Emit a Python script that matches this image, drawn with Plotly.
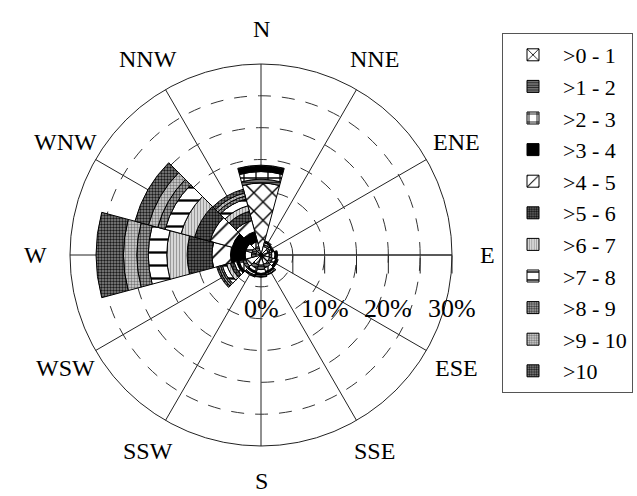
import math
import plotly.graph_objects as go

# Wind directions (compass, clockwise from north) and their bearings
directions = ["N", "NNE", "ENE", "E", "ESE", "SSE", "S", "SSW", "WSW", "W", "WNW", "NNW"]
bearings = [0, 30, 60, 90, 120, 150, 180, 210, 240, 270, 300, 330]

# Speed classes (m/s)
speed_classes = [">0 - 1", ">1 - 2", ">2 - 3", ">3 - 4", ">4 - 5", ">5 - 6",
                 ">6 - 7", ">7 - 8", ">8 - 9", ">9 - 10", ">10"]

# Frequency (%) of each speed class per direction, order as `directions`
freq_0_1 = [11.3, 1.4, 1.2, 1.3, 1.4, 1.5, 1.6, 1.6, 2.5, 0.8, 0.8, 0.8]
freq_1_2 = [0.6, 0.3, 0.3, 0.4, 0.5, 0.6, 0.7, 0.6, 0.5, 0.7, 0.7, 0.6]
freq_2_3 = [1.2, 0.3, 0.3, 0.5, 0.5, 0.6, 0.6, 0.5, 0.6, 1.0, 1.0, 0.8]
freq_3_4 = [0.9, 0.2, 0.2, 0.3, 0.3, 0.3, 0.3, 0.3, 0.4, 2.3, 2.2, 1.6]
freq_4_5 = [0.1, 0.1, 0.1, 0.1, 0.1, 0.2, 0.2, 0.3, 0.4, 2.9, 3.6, 1.8]
freq_5_6 = [0.0, 0.0, 0.0, 0.0, 0.0, 0.1, 0.1, 0.2, 0.6, 3.9, 2.5, 1.5]
freq_6_7 = [0.0, 0.0, 0.0, 0.0, 0.0, 0.0, 0.0, 0.1, 0.6, 3.2, 2.2, 0.9]
freq_7_8 = [0.0, 0.0, 0.0, 0.0, 0.0, 0.0, 0.0, 0.0, 0.7, 2.9, 2.6, 1.1]
freq_8_9 = [0.0, 0.0, 0.0, 0.0, 0.0, 0.0, 0.0, 0.0, 0.3, 1.8, 1.2, 0.5]
freq_9_10 = [0.0, 0.0, 0.0, 0.0, 0.0, 0.0, 0.0, 0.0, 0.3, 2.1, 1.5, 0.5]
freq_10 = [0.0, 0.0, 0.0, 0.0, 0.0, 0.0, 0.0, 0.0, 0.3, 4.3, 2.2, 0.6]

freqs = [freq_0_1, freq_1_2, freq_2_3, freq_3_4, freq_4_5, freq_5_6,
         freq_6_7, freq_7_8, freq_8_9, freq_9_10, freq_10]

# Radial axis ticks (%)
radial_ticks = [0, 5, 10, 15, 20, 25, 30]
radial_labels = ["0%", "", "10%", "", "20%", "", "30%"]
r_max = 30

# Fill style per speed class: (shape, fg, bg, size, solidity)
styles = [
    ("x", "black", "white", 13, 0.2),
    ("-", "#222222", "#8a8a8a", 3, 0.5),
    ("+", "black", "white", 12, 0.2),
    ("", "black", "black", 8, 0.5),
    ("/", "black", "white", 14, 0.12),
    (".", "#111111", "#6a6a6a", 3, 0.5),
    ("|", "#9a9a9a", "#dedede", 3, 0.4),
    ("-", "black", "white", 13, 0.18),
    (".", "#333333", "#b4b4b4", 3, 0.5),
    (".", "#777777", "#dcdcdc", 3, 0.5),
    (".", "#1a1a1a", "#8c8c8c", 3, 0.5),
]

SERIF = "Liberation Serif, Times New Roman, serif"
W, H = 637, 496

# Rose placement (pixels): centre and outer radius
CX, CY, R = 261, 255, 191

fig = go.Figure()
for name, vals, (shape, fg, bg, size, sol) in zip(speed_classes, freqs, styles):
    marker = dict(color=bg, line=dict(color="black", width=1))
    if shape:
        marker["pattern"] = dict(shape=shape, fgcolor=fg, bgcolor=bg,
                                 size=size, solidity=sol, fillmode="replace")
    fig.add_trace(go.Barpolar(
        r=vals, theta=bearings, width=30, name=name,
        marker=marker, legendgroup=name,
    ))

fig.update_layout(
    width=W, height=H,
    margin=dict(l=0, r=0, t=0, b=0),
    paper_bgcolor="white",
    font=dict(family=SERIF, size=22, color="black"),
    polar=dict(
        domain=dict(x=[(CX - R) / W, (CX + R) / W],
                    y=[1 - (CY + R) / H, 1 - (CY - R) / H]),
        bgcolor="white",
        bargap=0,
        angularaxis=dict(
            direction="clockwise", rotation=90,
            tickmode="array", tickvals=bearings, ticktext=directions,
            showticklabels=False, ticks="",
            showgrid=True, gridcolor="#222222", gridwidth=1,
            showline=True, linecolor="#222222", linewidth=1,
            layer="below traces",
        ),
        radialaxis=dict(
            range=[0, r_max], angle=0, side="clockwise",
            tickmode="array", tickvals=radial_ticks, ticktext=radial_labels,
            showticklabels=False,
            ticks="outside", ticklen=18, tickcolor="#222222",
            showgrid=True, gridcolor="#333333", gridwidth=1, griddash="13px,11px",
            showline=True, linecolor="#222222", linewidth=1,
            layer="below traces",
        ),
    ),
    legend=dict(
        x=502 / W, y=1 - 33 / H, xanchor="left", yanchor="top",
        bordercolor="#555555", borderwidth=1, bgcolor="white",
        font=dict(family=SERIF, size=22),
        tracegroupgap=8, traceorder="normal", itemwidth=50,
    ),
    showlegend=True,
)

# Percentage labels below the radial axis (pointing east)
for val, txt in zip(radial_ticks, radial_labels):
    if not txt:
        continue
    px = CX + val / r_max * R
    fig.add_annotation(x=px / W, y=1 - 308 / H, xref="paper", yref="paper",
                       text=txt, showarrow=False, xanchor="center", yanchor="middle",
                       font=dict(family=SERIF, size=26, color="black"))

# Compass labels placed radially outside the rose
D = 226
for d, b in zip(directions, bearings):
    a = math.radians(b)
    px = CX + D * math.sin(a)
    py = CY - D * math.cos(a)
    fig.add_annotation(x=px / W, y=1 - py / H, xref="paper", yref="paper",
                       text=d, showarrow=False, xanchor="center", yanchor="middle",
                       font=dict(family=SERIF, size=24, color="black"))

fig.write_html("out.html")
